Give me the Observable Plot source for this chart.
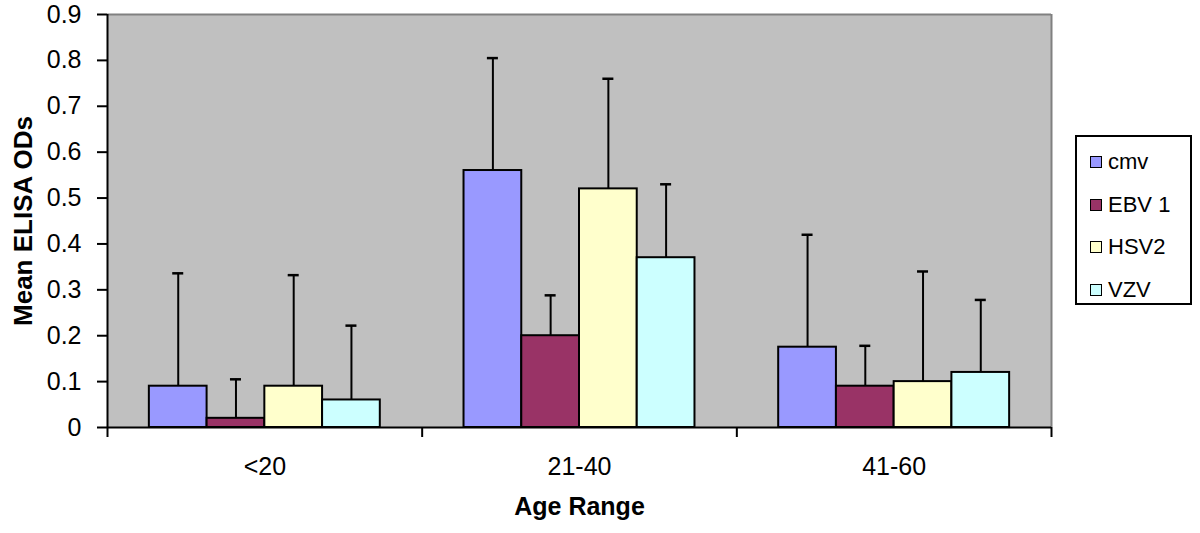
<!DOCTYPE html>
<html>
<head>
<meta charset="utf-8">
<script src="https://cdn.jsdelivr.net/npm/d3@7"></script>
<script src="https://cdn.jsdelivr.net/npm/@observablehq/plot@0.6"></script>
<style>
  html, body { margin: 0; padding: 0; background: #fff; }
  #wrap { position: relative; width: 1200px; height: 533px; font-family: "Liberation Sans", Arial, sans-serif; }
  #legend { position: absolute; left: 1075px; top: 135px; width: 113px; height: 166px; border: 2px solid #000; background: #fff; }
  .item { position: absolute; left: 13px; height: 24px; display: flex; align-items: center; font-size: 22px; color: #000; }
  .sw { width: 10px; height: 10px; border: 1.5px solid #000; margin-right: 6px; }
</style>
</head>
<body>
<div id="wrap"></div>
<script>
// ---- data ----
const categories = ["<20", "21-40", "41-60"];
const series = ["cmv", "EBV 1", "HSV2", "VZV"];
const colors = ["#9999FF", "#993366", "#FFFFCC", "#CCFFFF"];
const meanCmv  = [0.09, 0.56, 0.175];
const meanEbv  = [0.02, 0.20, 0.09];
const meanHsv2 = [0.09, 0.52, 0.10];
const meanVzv  = [0.06, 0.37, 0.12];
const sdCmv  = [0.246, 0.245, 0.245];
const sdEbv  = [0.085, 0.088, 0.088];
const sdHsv2 = [0.242, 0.240, 0.240];
const sdVzv  = [0.162, 0.160, 0.158];
const yTicks = [0, 0.1, 0.2, 0.3, 0.4, 0.5, 0.6, 0.7, 0.8, 0.9];

// ---- build table ----
const means = [meanCmv, meanEbv, meanHsv2, meanVzv];
const sds = [sdCmv, sdEbv, sdHsv2, sdVzv];
const gap = 0.725; // outer gap (in bar widths) on each side within a category
const slots = series.length + 2 * gap;
const rows = [];
categories.forEach((c, i) => {
  series.forEach((s, j) => {
    const x1 = i + (gap + j) / slots;
    const x2 = i + (gap + j + 1) / slots;
    rows.push({cat: c, series: s, mean: means[j][i], sd: sds[j][i], top: means[j][i] + sds[j][i],
               x1, x2, xc: (x1 + x2) / 2, color: colors[j]});
  });
});
const capHalf = 0.0175;

const chart = Plot.plot({
  width: 1200,
  height: 533,
  marginLeft: 107,
  marginRight: 149,
  marginTop: 14,
  marginBottom: 106,
  style: {fontFamily: "'Liberation Sans', Arial, sans-serif", fontSize: "25px", color: "#000", background: "transparent"},
  x: {type: "linear", domain: [0, categories.length], axis: null},
  y: {domain: [0, 0.9], axis: null},
  marks: [
    Plot.frame({fill: "#C0C0C0", stroke: null}),
    Plot.ruleY([0.9], {stroke: "#808080", strokeWidth: 2}),
    Plot.ruleX([categories.length], {stroke: "#808080", strokeWidth: 2}),
    Plot.rectY(rows, {x1: "x1", x2: "x2", y1: 0, y2: "mean", fill: "color", stroke: "#000", strokeWidth: 2}),
    Plot.ruleX(rows, {x: "xc", y1: "mean", y2: "top", stroke: "#000", strokeWidth: 2}),
    Plot.ruleY(rows, {y: "top", x1: d => d.xc - capHalf, x2: d => d.xc + capHalf, stroke: "#000", strokeWidth: 2.5}),
    Plot.ruleX([0], {stroke: "#000", strokeWidth: 2}),
    Plot.ruleY([0], {stroke: "#000", strokeWidth: 2}),
    Plot.axisY({ticks: yTicks, tickSize: 10, tickPadding: 16, tickFormat: d => d3.format("")(d), label: null, stroke: "#000", strokeWidth: 2, fontSize: 25}),
    Plot.axisX({ticks: d3.range(categories.length + 1), tickSize: 10, tickFormat: () => "", label: null, strokeWidth: 2}),
    Plot.axisX({ticks: categories.map((c, i) => i + 0.5), tickSize: 0, tickPadding: 30, tickFormat: v => categories[Math.floor(v)], label: null, fontSize: 25}),
    Plot.text(["Age Range"], {frameAnchor: "bottom", dy: 87, fontWeight: "bold", fontSize: 25}),
    Plot.text(["Mean ELISA ODs"], {frameAnchor: "left", dx: -84, textAnchor: "middle", rotate: -90, fontWeight: "bold", fontSize: 26})
  ]
});

const wrap = document.getElementById("wrap");
wrap.appendChild(chart);

// ---- legend ----
const legend = document.createElement("div");
legend.id = "legend";
series.forEach((s, j) => {
  const it = document.createElement("div");
  it.className = "item";
  it.style.top = (13 + j * 42.5) + "px";
  const sw = document.createElement("div");
  sw.className = "sw";
  sw.style.background = colors[j];
  const t = document.createElement("span");
  t.textContent = s;
  it.appendChild(sw);
  it.appendChild(t);
  legend.appendChild(it);
});
wrap.appendChild(legend);
</script>
</body>
</html>
